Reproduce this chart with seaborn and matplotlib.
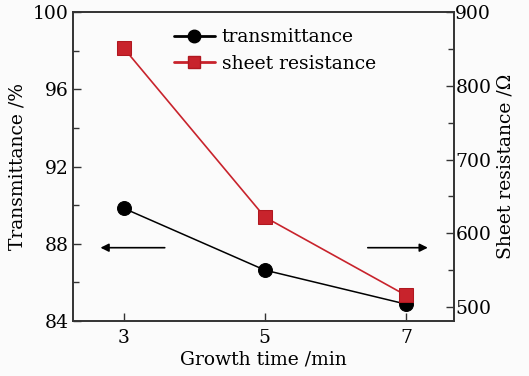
import matplotlib
matplotlib.use("Agg")
import matplotlib.pyplot as plt
import seaborn as sns
import pandas as pd
from matplotlib.ticker import MultipleLocator
from matplotlib.lines import Line2D

growth_time = [3, 5, 7]
transmittance = [89.84, 86.64, 84.88]
sheet_resistance = [851, 622, 516]

sns.set_theme(style="ticks")
plt.rcParams['font.family'] = ['DejaVu Serif']
plt.rcParams['mathtext.fontset'] = 'dejavuserif'
plt.rcParams['text.color'] = 'black'
plt.rcParams['axes.labelcolor'] = 'black'
plt.rcParams['xtick.labelcolor'] = 'black'
plt.rcParams['ytick.labelcolor'] = 'black'

df = pd.DataFrame({"time": growth_time, "T": transmittance, "R": sheet_resistance})

fig = plt.figure(figsize=(5.29, 3.76), dpi=100)
fig.patch.set_facecolor('#fbfbfb')
ax = fig.add_axes([0.138, 0.146, 0.72, 0.822])
ax.set_facecolor('#fbfbfb')
ax2 = ax.twinx()

red = "#c8232c"
sns.lineplot(data=df, x="time", y="T", ax=ax, color="black", marker="o",
             markersize=10, markeredgecolor="black", linewidth=1.1,
             legend=False)
sns.lineplot(data=df, x="time", y="R", ax=ax2, color=red, marker="s",
             markersize=9.5, markeredgecolor="#b01820", linewidth=1.2,
             legend=False)

ax.set_xlim(2.28, 7.68)
ax.set_ylim(84, 100)
ax2.set_ylim(481, 900)
ax.set_xticks([3, 5, 7])
ax.set_yticks([84, 88, 92, 96, 100])
ax.yaxis.set_minor_locator(MultipleLocator(2))
ax2.set_yticks([500, 600, 700, 800, 900])
ax2.yaxis.set_minor_locator(MultipleLocator(50))

fs = 13.5
for a in (ax, ax2):
    a.tick_params(which='both', direction='in', labelsize=fs, color='#333333')
    a.tick_params(which='major', length=6, width=1)
    a.tick_params(which='minor', length=4, width=1)
    for s in a.spines.values():
        s.set_color('#333333')
        s.set_linewidth(1.2)
ax.tick_params(axis='x', pad=6)
ax.tick_params(axis='y', pad=3)
ax2.tick_params(axis='y', pad=1)

ax.set_xlabel("Growth time /min", fontsize=fs, labelpad=2)
ax.set_ylabel("Transmittance /%", fontsize=fs, labelpad=5)
ax2.set_ylabel("Sheet resistance /Ω", fontsize=fs, labelpad=4)

ax.annotate("", xy=(2.63, 87.8), xytext=(3.62, 87.8),
            arrowprops=dict(arrowstyle="-|>", color="black", lw=1.2,
                            mutation_scale=12))
ax.annotate("", xy=(7.35, 87.8), xytext=(6.42, 87.8),
            arrowprops=dict(arrowstyle="-|>", color="black", lw=1.2,
                            mutation_scale=12))

handles = [Line2D([], [], color="black", marker="o", markersize=9, lw=2),
           Line2D([], [], color=red, marker="s", markersize=8.5, lw=2,
                  markeredgecolor="#b01820")]
labels = ["transmittance", "sheet resistance"]
ax2.legend(handles, labels, loc='upper left', bbox_to_anchor=(0.23, 0.99),
           frameon=False, fontsize=fs, handlelength=2.2, handletextpad=0.35,
           labelspacing=0.45, borderaxespad=0.3)

fig.savefig("out.png", dpi=100, facecolor=fig.get_facecolor())
